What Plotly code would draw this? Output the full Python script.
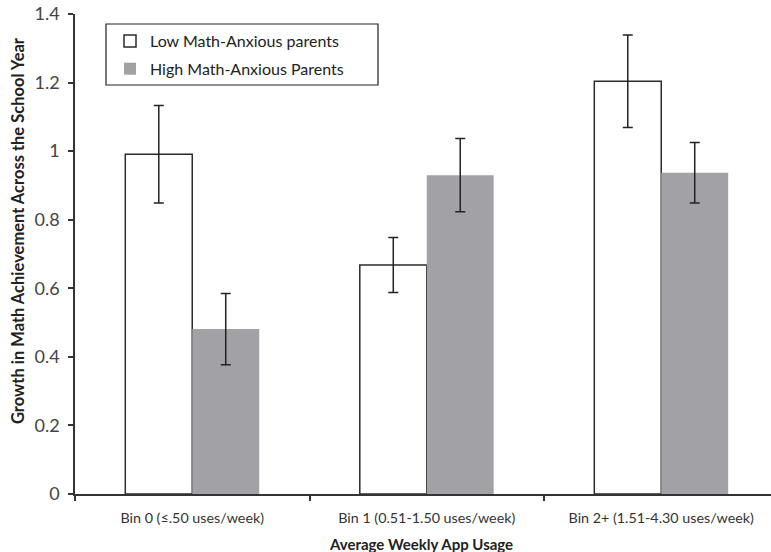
import plotly.graph_objects as go

categories = ["Bin 0 (≤.50 uses/week)", "Bin 1 (0.51-1.50 uses/week)", "Bin 2+ (1.51-4.30 uses/week)"]
low_vals = [0.991, 0.668, 1.204]
low_err = [0.142, 0.08, 0.135]
high_vals = [0.481, 0.930, 0.937]
high_err = [0.104, 0.107, 0.088]
y_ticks = [0, 0.2, 0.4, 0.6, 0.8, 1.0, 1.2, 1.4]
y_ticktext = ["0", "0.2", "0.4", "0.6", "0.8", "1", "1.2", "1.4"]
y_title = "Growth in Math Achievement Across the School Year"
x_title = "Average Weekly App Usage"

FONT = "Lato, 'Open Sans', sans-serif"

fig = go.Figure()
fig.add_trace(go.Bar(
    x=categories, y=low_vals, name="Low Math-Anxious parents",
    marker=dict(color="white", line=dict(color="#2b2b2b", width=1.5)),
    error_y=dict(type="data", array=low_err, color="#222222", thickness=1.5, width=5),
    legendgroup="a",
))
fig.add_trace(go.Bar(
    x=categories, y=high_vals, name="High Math-Anxious Parents",
    marker=dict(color="#a2a2a6", line=dict(color="#a2a2a6", width=0)),
    error_y=dict(type="data", array=high_err, color="#222222", thickness=1.5, width=5),
    legendgroup="b",
))

# legend frame (paper coords)
fig.add_shape(type="rect", xref="paper", yref="paper",
              x0=(106 - 75) / 696, x1=(378 - 75) / 696,
              y0=(494 - 85) / 480, y1=(494 - 24) / 480,
              line=dict(color="#222222", width=1.2), fillcolor="rgba(0,0,0,0)")

# axis titles as annotations to control placement
fig.add_annotation(text="<b>" + y_title + "</b>", xref="paper", yref="paper",
                   x=-57 / 696, y=(494 - 231) / 480, xanchor="center", yanchor="middle",
                   textangle=-90, showarrow=False,
                   font=dict(size=16.5, color="#222222", family=FONT))
fig.add_annotation(text="<b>" + x_title + "</b>", xref="paper", yref="paper",
                   x=(421 - 75) / 696, y=(494 - 544) / 480, xanchor="center", yanchor="middle",
                   showarrow=False,
                   font=dict(size=15, color="#222222", family=FONT))

fig.update_layout(
    width=771, height=552,
    margin=dict(l=75, r=0, t=14, b=58),
    plot_bgcolor="white", paper_bgcolor="white",
    barmode="group", bargap=0.429, bargroupgap=0,
    font=dict(family=FONT, color="#333333", size=15),
    showlegend=True,
    legend=dict(x=(110 - 75) / 696, y=(494 - 24) / 480, xanchor="left", yanchor="top",
                bgcolor="rgba(0,0,0,0)", borderwidth=0,
                font=dict(size=16, color="#222222"),
                tracegroupgap=4, traceorder="grouped"),
    xaxis=dict(
        range=[-0.5, 2.468],
        showline=True, linecolor="#333333", linewidth=1.5,
        ticks="outside", tickson="boundaries", ticklen=5, tickcolor="#333333", tickwidth=1.5,
        tickfont=dict(size=14.3, color="#333333"), ticklabelstandoff=10,
        showgrid=False, zeroline=False,
    ),
    yaxis=dict(
        range=[0, 1.4], tickvals=y_ticks, ticktext=y_ticktext,
        showline=True, linecolor="#333333", linewidth=1.5,
        ticks="outside", ticklen=5, tickcolor="#333333", tickwidth=1.5,
        tickfont=dict(size=18, color="#444444"), ticklabelstandoff=5,
        showgrid=False, zeroline=False,
    ),
)

fig.write_html("out.html", config={"displayModeBar": False},
               post_script="document.body.style.margin='0';document.body.style.overflow='hidden';")
